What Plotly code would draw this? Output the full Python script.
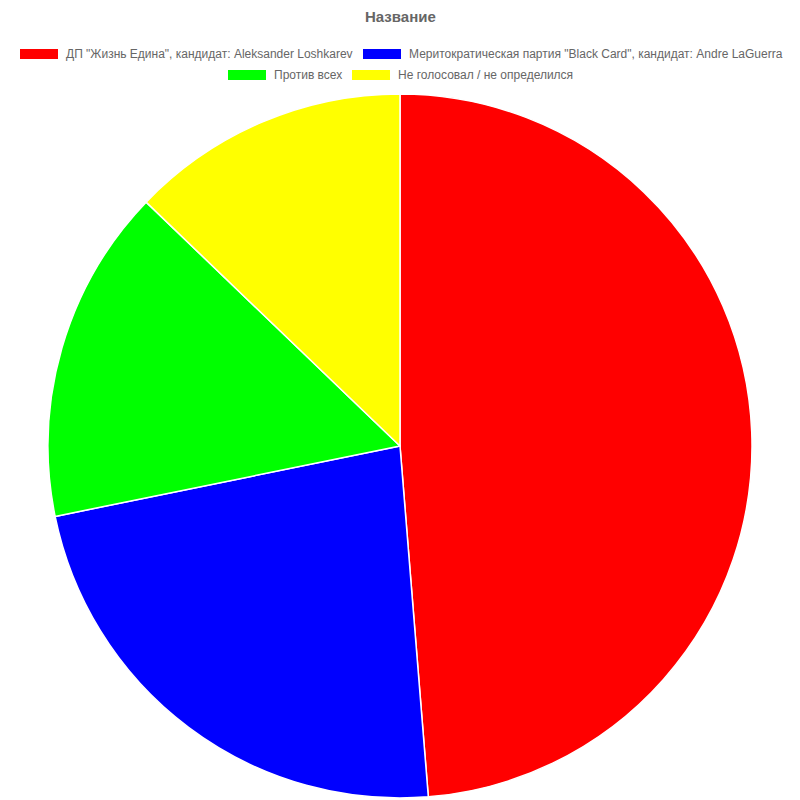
import plotly.graph_objects as go

labels = [
    'ДП "Жизнь Едина", кандидат: Aleksander Loshkarev',
    'Меритократическая партия "Black Card", кандидат: Andre LaGuerra',
    'Против всех',
    'Не голосовал / не определился',
]
values = [38, 18, 12, 10]
colors = ['#ff0000', '#0000ff', '#00ff00', '#ffff00']
title = 'Название'

W, H = 800, 800
OFF = 8  # page body margin


def px(x):
    return (x - OFF) / W


def py(y):
    return 1 - (y - OFF) / H


fig = go.Figure(go.Pie(
    labels=labels, values=values, sort=False, direction='clockwise', rotation=0,
    marker=dict(colors=colors, line=dict(color='white', width=1.5)),
    textinfo='none', hoverinfo='label+value', showlegend=False,
    domain=dict(x=[px(48), px(752)], y=[py(798), py(94)]),
))

# custom Chart.js-style legend (box 38x10, then text)
legend_pos = [(20, 54), (363, 54), (228, 75), (352, 75)]
shapes, annotations = [], []
for (lx, ly), lab, col in zip(legend_pos, labels, colors):
    shapes.append(dict(type='rect', xref='paper', yref='paper',
                       x0=px(lx), x1=px(lx + 38),
                       y0=py(ly + 5), y1=py(ly - 5),
                       fillcolor=col, line=dict(width=0)))
    annotations.append(dict(text=lab, xref='paper', yref='paper',
                            x=px(lx + 44), y=py(ly),
                            xanchor='left', yanchor='middle', showarrow=False,
                            font=dict(family='Liberation Sans, Arial', size=12, color='#666666')))
annotations.append(dict(text='<b>' + title + '</b>', xref='paper', yref='paper',
                        x=px(400), y=py(17), xanchor='center', yanchor='middle',
                        showarrow=False,
                        font=dict(family='Liberation Sans, Arial', size=15, color='#666666')))

fig.update_layout(width=W, height=H, margin=dict(l=0, r=0, t=0, b=0),
                  paper_bgcolor='white', plot_bgcolor='white',
                  shapes=shapes, annotations=annotations)
fig.write_html('out.html')
